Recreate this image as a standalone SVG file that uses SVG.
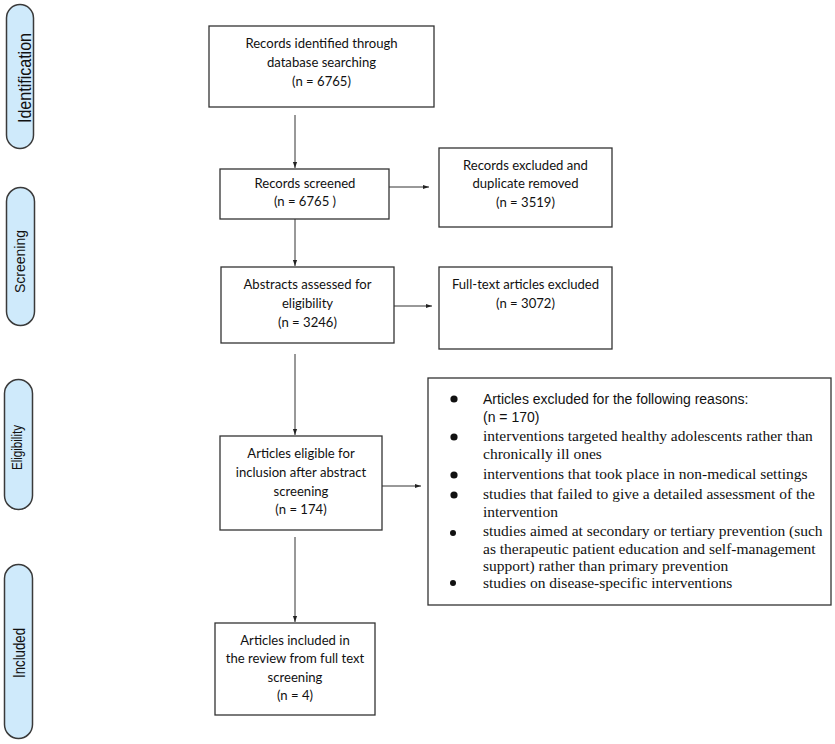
<svg xmlns="http://www.w3.org/2000/svg" width="835" height="744" viewBox="0 0 835 744">
<style>
.box{fill:#fff;stroke:#333;stroke-width:1.3}
.pill{fill:#cfeafb;stroke:#3a3a3a;stroke-width:1.5}
.t{font-family:Lato,"Open Sans","Liberation Sans",sans-serif;font-size:13.1px;fill:#111;text-anchor:middle}
.side{font-family:"Liberation Sans",Arial,sans-serif;font-size:16px;fill:#111;text-anchor:middle}
.ar{font-family:"Liberation Sans",Arial,sans-serif;font-size:14px;fill:#111}
.tm{font-family:"Liberation Serif","Times New Roman",serif;font-size:15.5px;fill:#111}
.ln{stroke:#333;stroke-width:1;fill:none;marker-end:url(#ah)}
</style>
<defs>
<marker id="ah" viewBox="0 0 10 10" refX="10" refY="5" markerWidth="6" markerHeight="6" markerUnits="userSpaceOnUse" orient="auto">
<path d="M0,1.5 L10,5 L0,8.5 z" fill="#222"/>
</marker>
</defs>
<rect width="835" height="744" fill="#fff"/>

<g id="label-identification">
<rect class="pill" x="6.5" y="4.5" width="27" height="144" rx="13.5"/>
<text class="side" transform="translate(31,78) rotate(-90)" style="font-size:18px" textLength="90" lengthAdjust="spacingAndGlyphs">Identification</text>
</g>
<g id="label-screening">
<rect class="pill" x="6.5" y="187.5" width="28" height="138" rx="14"/>
<text class="side" transform="translate(25,261.5) rotate(-90)" style="font-size:15.5px" textLength="63" lengthAdjust="spacingAndGlyphs">Screening</text>
</g>
<g id="label-eligibility">
<rect class="pill" x="4.5" y="379.5" width="28" height="130" rx="14"/>
<text class="side" transform="translate(21.5,447.5) rotate(-90)" style="font-size:14px" textLength="45" lengthAdjust="spacingAndGlyphs">Eligibility</text>
</g>
<g id="label-included">
<rect class="pill" x="4.5" y="564.5" width="28" height="174" rx="14"/>
<text class="side" transform="translate(24.5,653) rotate(-90)" textLength="50" lengthAdjust="spacingAndGlyphs">Included</text>
</g>

<g id="connectors">
<line class="ln" x1="295" y1="115" x2="295" y2="168"/>
<line class="ln" x1="387" y1="187" x2="429" y2="187"/>
<line class="ln" x1="295" y1="219" x2="295" y2="266"/>
<line class="ln" x1="387" y1="306" x2="432" y2="306"/>
<line class="ln" x1="295" y1="354" x2="295" y2="435"/>
<line class="ln" x1="375" y1="486" x2="421" y2="486"/>
<line class="ln" x1="295" y1="537" x2="295" y2="622"/>
</g>

<g id="n-identified">
<rect class="box" x="209" y="26" width="225" height="81"/>
<text class="t" x="321.5" y="48">Records identified through</text>
<text class="t" x="321.5" y="67">database searching</text>
<text class="t" x="321.5" y="86">(n = 6765)</text>
</g>
<g id="n-screened">
<rect class="box" x="220" y="169" width="169" height="50"/>
<text class="t" x="305" y="188">Records screened</text>
<text class="t" x="305" y="206">(n = 6765 )</text>
</g>
<g id="n-excluded">
<rect class="box" x="439" y="148" width="173" height="79"/>
<text class="t" x="525.5" y="170">Records excluded and</text>
<text class="t" x="525.5" y="188">duplicate removed</text>
<text class="t" x="525.5" y="207">(n = 3519)</text>
</g>
<g id="n-abstracts">
<rect class="box" x="221" y="267" width="173" height="76"/>
<text class="t" x="307.5" y="289">Abstracts assessed for</text>
<text class="t" x="307.5" y="308">eligibility</text>
<text class="t" x="307.5" y="327">(n = 3246)</text>
</g>
<g id="n-fulltext-excluded">
<rect class="box" x="439" y="267" width="173" height="82"/>
<text class="t" x="525.5" y="289">Full-text articles excluded</text>
<text class="t" x="525.5" y="308">(n = 3072)</text>
</g>
<g id="n-eligible">
<rect class="box" x="220" y="436" width="162" height="94"/>
<text class="t" x="301" y="458">Articles eligible for</text>
<text class="t" x="301" y="477">inclusion after abstract</text>
<text class="t" x="301" y="496">screening</text>
<text class="t" x="301" y="514">(n = 174)</text>
</g>
<g id="n-reasons">
<rect class="box" x="428" y="378" width="403" height="227"/>
<circle cx="454" cy="399" r="3.6" fill="#111"/>
<circle cx="454" cy="437" r="3.6" fill="#111"/>
<circle cx="454" cy="475" r="3.6" fill="#111"/>
<circle cx="454" cy="495" r="3.6" fill="#111"/>
<circle cx="453" cy="533" r="3" fill="#111"/>
<circle cx="453" cy="583" r="3" fill="#111"/>
<text class="ar" x="483" y="404">Articles  excluded for the following reasons:</text>
<text class="ar" x="483" y="422">(n = 170)</text>
<text class="tm" x="483" y="441">interventions targeted healthy adolescents rather than</text>
<text class="tm" x="483" y="459">chronically ill ones</text>
<text class="tm" x="483" y="479">interventions that took place in non-medical settings</text>
<text class="tm" x="483" y="499">studies that failed to give a detailed assessment of the</text>
<text class="tm" x="483" y="517">intervention</text>
<text class="tm" x="483" y="536">studies aimed at secondary or tertiary prevention (such</text>
<text class="tm" x="483" y="554">as therapeutic patient education and self-management</text>
<text class="tm" x="483" y="571">support) rather than primary prevention</text>
<text class="tm" x="483" y="588">studies on disease-specific interventions</text>
</g>
<g id="n-included">
<rect class="box" x="215" y="623" width="160" height="92"/>
<text class="t" x="295" y="645">Articles included in</text>
<text class="t" x="295" y="663">the review from full text</text>
<text class="t" x="295" y="682">screening</text>
<text class="t" x="295" y="700">(n = 4)</text>
</g>
</svg>
